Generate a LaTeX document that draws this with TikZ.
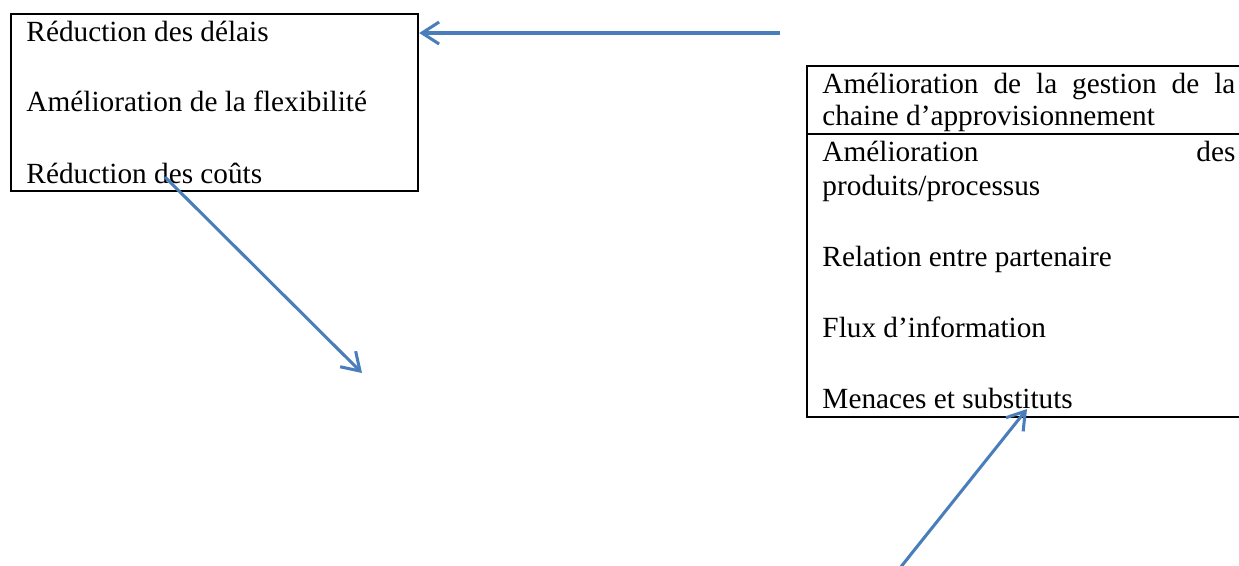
\documentclass[tikz,border=0pt]{standalone}
\usepackage{fontspec}
\setmainfont{Liberation Serif}
\usepackage{tikz}
\usetikzlibrary{arrows.meta, fit, positioning}
\usepackage{xcolor}
\definecolor{linkblue}{RGB}{74,126,187}

\begin{document}
\begin{tikzpicture}[x=0.41pt, y=-0.41pt,
        box/.style={draw, line width=1pt, inner sep=0pt},
        item/.style={anchor=base west, inner sep=0pt, font=\fontsize{12}{14}\selectfont},
        link/.style={draw=linkblue, line width=1.25pt, -{Straight Barb[length=7pt,width=9pt]}}]
            \useasboundingbox (0,0) rectangle (1239,565);
            % Left box
            \node[box, fit={(11,14) (418,191)}] (gains) {};
            \node[item] (delais) at (26,41.7) {Réduction des délais};
            \node[item] (flex) at (26,111.7) {Amélioration de la flexibilité};
            \node[item] (couts) at (26,183) {Réduction des coûts};
            % Right box
            \node[box, fit={(807,66) (1245,134)}] (gestion) {};
            \node[box, fit={(807,134) (1245,417)}] (leviers) {};
            \node[item] (chaine) at (822,93) {\makebox[169.3pt][s]{Amélioration de la gestion de la}};
            \node[item] (appro) at (822,125) {chaine d’approvisionnement};
            \node[item] (produits) at (822,161.7) {\makebox[169.3pt][s]{Amélioration des}};
            \node[item] (processus) at (822,195) {produits/processus};
            \node[item] (relation) at (822,266.7) {Relation entre partenaire};
            \node[item] (flux) at (822,337.7) {Flux d’information};
            \node[item] (menaces) at (822,408) {Menaces et substituts};
            % Connectors
            \coordinate (fromright) at (780,33);
            \draw[link] (fromright) -- (fromright -| gains.east);
            \coordinate (coutstart) at (165,177);
            \coordinate (coutend) at (362,373);
            \draw[link] (coutstart) -- (coutend);
            \coordinate (basstart) at (900,568);
            \coordinate (menaceend) at (1027,409);
            \draw[link] (basstart) -- (menaceend);
        \end{tikzpicture}
\end{document}
